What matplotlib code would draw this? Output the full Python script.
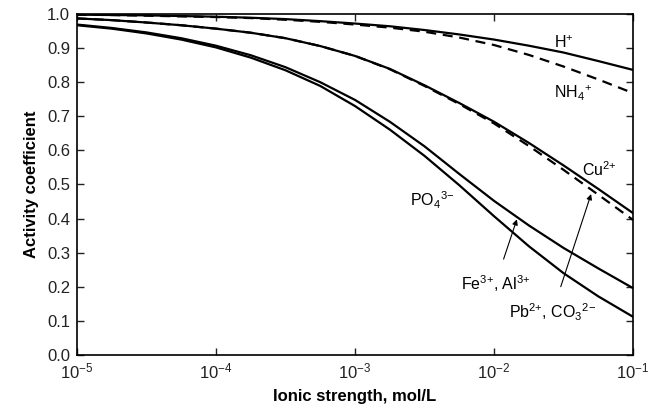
import numpy as np
import matplotlib
matplotlib.use("Agg")
import matplotlib.pyplot as plt
from matplotlib.ticker import LogLocator, NullLocator, MultipleLocator

plt.rcParams['font.family'] = ['Liberation Sans', 'DejaVu Sans']
plt.rcParams['mathtext.default'] = 'regular'

# ionic strength (mol/L), quarter-decade steps from 1e-5 to 1e-1
ionic = [1e-5, 1.78e-5, 3.16e-5, 5.62e-5, 1e-4, 1.78e-4, 3.16e-4, 5.62e-4,
         1e-3, 1.78e-3, 3.16e-3, 5.62e-3, 1e-2, 1.78e-2, 3.16e-2, 5.62e-2, 1e-1]

# activity coefficients
h_ion = [0.998, 0.997, 0.996, 0.994, 0.992, 0.989, 0.985, 0.979, 0.972,
         0.964, 0.953, 0.940, 0.925, 0.907, 0.887, 0.862, 0.836]
nh4 = [0.998, 0.997, 0.995, 0.993, 0.991, 0.988, 0.983, 0.977, 0.969,
       0.960, 0.948, 0.931, 0.909, 0.880, 0.846, 0.808, 0.768]
cu = [0.987, 0.982, 0.975, 0.967, 0.957, 0.945, 0.929, 0.906, 0.877,
      0.839, 0.791, 0.739, 0.684, 0.622, 0.556, 0.487, 0.416]
pb_co3 = [0.987, 0.982, 0.975, 0.967, 0.957, 0.945, 0.929, 0.906, 0.877,
          0.838, 0.789, 0.736, 0.679, 0.613, 0.543, 0.470, 0.396]
fe_al = [0.969, 0.959, 0.946, 0.929, 0.907, 0.879, 0.844, 0.800, 0.748,
         0.684, 0.612, 0.531, 0.452, 0.380, 0.314, 0.254, 0.196]
po4 = [0.967, 0.957, 0.943, 0.925, 0.902, 0.872, 0.835, 0.789, 0.730,
       0.661, 0.584, 0.498, 0.407, 0.319, 0.240, 0.172, 0.112]

fig = plt.figure(figsize=(6.54, 4.09), dpi=100)
ax = fig.add_axes([0.1177, 0.132, 0.8503, 0.8338])

lw = 1.6
dash = (0, (4.5, 3))
ax.plot(ionic, h_ion, color='black', lw=lw)
ax.plot(ionic, nh4, color='black', lw=lw, linestyle=dash)
ax.plot(ionic, cu, color='black', lw=lw)
ax.plot(ionic, pb_co3, color='black', lw=lw, linestyle=dash)
ax.plot(ionic, fe_al, color='black', lw=lw)
ax.plot(ionic, po4, color='black', lw=lw)

ax.set_xscale('log')
ax.set_xlim(1e-5, 1e-1)
ax.set_ylim(0, 1.0)
ax.xaxis.set_major_locator(LogLocator(base=10, numticks=10))
ax.xaxis.set_minor_locator(NullLocator())
ax.yaxis.set_major_locator(MultipleLocator(0.1))
ax.yaxis.set_major_formatter(plt.FormatStrFormatter('%.1f'))

ax.tick_params(direction='in', top=True, right=True, length=5, width=1,
               labelsize=12, colors='#222222')
ax.tick_params(axis='x', pad=5)
ax.tick_params(axis='y', pad=5)
for s in ax.spines.values():
    s.set_linewidth(1.2)

ax.set_xlabel('Ionic strength, mol/L', fontweight='bold', fontsize=12, labelpad=5)
ax.set_ylabel('Activity coefficient', fontweight='bold', fontsize=12, labelpad=6)

fs = 11.5
ax.text(0.032, 0.915, 'H$^{{+}}$', fontsize=fs, ha='center', va='center')
ax.text(0.037, 0.768, 'NH$_4$$^{{+}}$', fontsize=fs, ha='center', va='center')
ax.text(0.057, 0.543, 'Cu$^{2{+}}$', fontsize=fs, ha='center', va='center')
ax.text(0.0036, 0.455, 'PO$_4$$^{3{-}}$', fontsize=fs, ha='center', va='center')
ax.annotate('Fe$^{3{+}}$, Al$^{3{+}}$', xy=(0.0146, 0.398), xytext=(0.0102, 0.208),
            fontsize=fs, ha='center', va='center',
            arrowprops=dict(arrowstyle='-|>', color='black', lw=0.8,
                            mutation_scale=8, shrinkA=9, shrinkB=0))
ax.annotate('Pb$^{2{+}}$, CO$_3$$^{2{-}}$', xy=(0.0499, 0.472), xytext=(0.0263, 0.126),
            fontsize=fs, ha='center', va='center',
            arrowprops=dict(arrowstyle='-|>', color='black', lw=0.8,
                            mutation_scale=8, shrinkA=9, shrinkB=0))

fig.savefig('out.png', dpi=100)
